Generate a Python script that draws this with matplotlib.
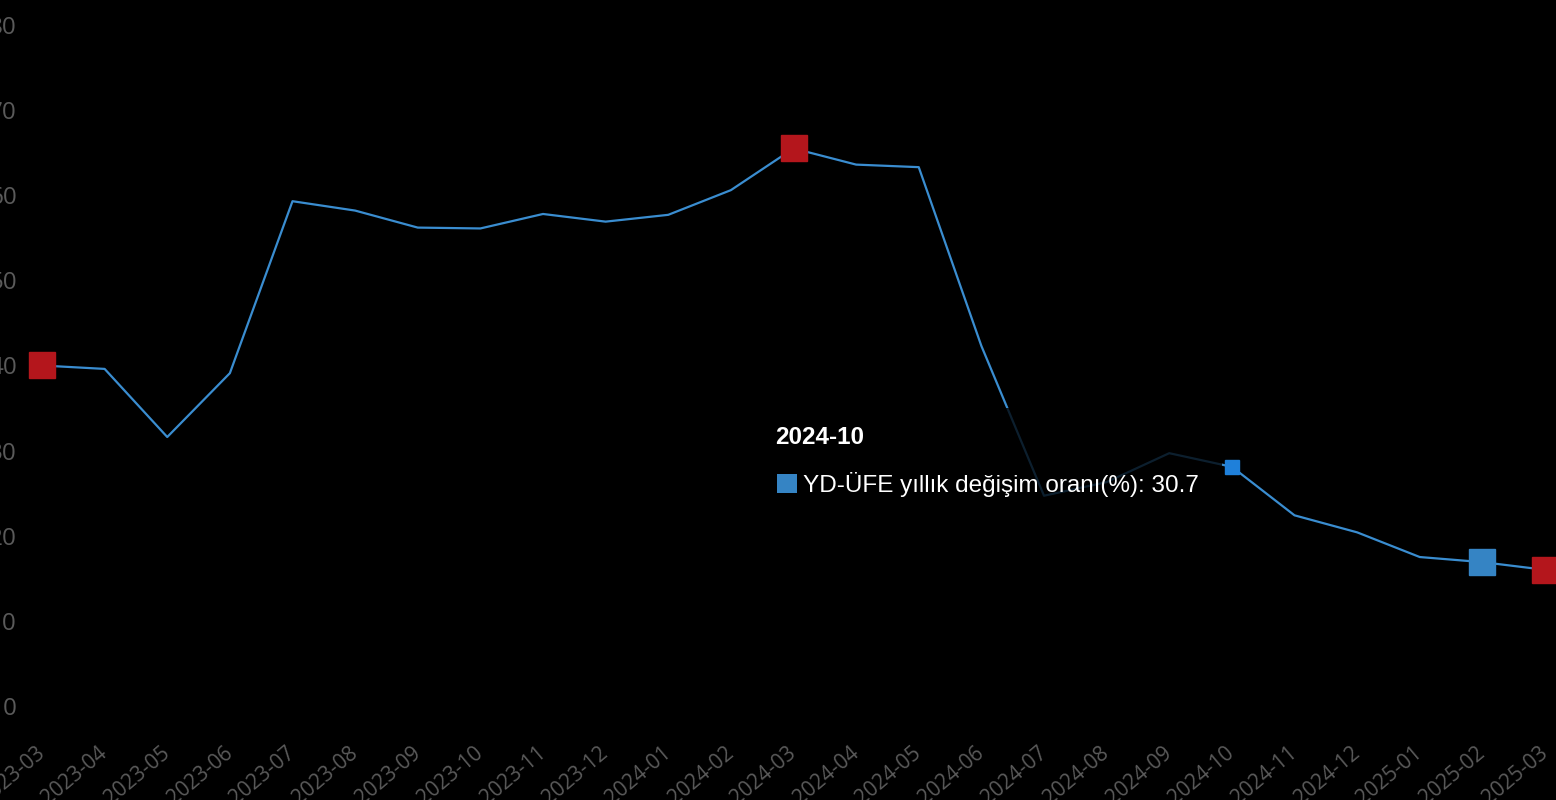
#!/usr/bin/env python3
"""YD-ÜFE annual change line chart, dark theme with hover tooltip."""

import matplotlib

matplotlib.use("Agg")
import matplotlib.pyplot as plt
from matplotlib.patches import Rectangle

W, H = 1556, 800

months = [
    "2023-03", "2023-04", "2023-05", "2023-06", "2023-07", "2023-08",
    "2023-09", "2023-10", "2023-11", "2023-12", "2024-01", "2024-02",
    "2024-03", "2024-04", "2024-05", "2024-06", "2024-07", "2024-08",
    "2024-09", "2024-10", "2024-11", "2024-12", "2025-01", "2025-02",
    "2025-03",
]
rates = [
    40.0, 39.6, 31.6, 39.1, 59.3, 58.2,
    56.2, 56.1, 57.8, 56.9, 57.7, 60.6,
    65.5, 63.6, 63.3, 42.3, 24.7, 26.3,
    29.7, 28.1, 22.4, 20.4, 17.5, 16.9,
    16.0,
]
y_ticks = [0, 10, 20, 30, 40, 50, 60, 70, 80]
red_idx = [0, 12, 24]        # first, peak, last
emph_idx = 23                # 2025-02 big blue square
hover_idx = 19               # 2024-10 hovered point
series_name = "YD-ÜFE yıllık değişim oranı(%)"
hover_label = "30.7"

LINE = "#3a8dd0"
RED = "#b4161c"
BLUE_BIG = "#3584c4"
BLUE_HOVER = "#1f80da"
GRAY = "#5a5a5a"


def px(x, y):
    """pixel (from top-left) -> figure fraction"""
    return x / W, 1 - y / H


fig = plt.figure(figsize=(W / 100, H / 100), dpi=100, facecolor="black")
ax = fig.add_axes([42 / W, 94 / H, (1545 - 42) / W, (706 - 25) / H])
ax.set_facecolor("black")

xs = list(range(len(months)))
ax.plot(xs, rates, color=LINE, lw=1.6, zorder=2, solid_joinstyle="round")

ax.plot([xs[i] for i in red_idx], [rates[i] for i in red_idx], "s",
        color=RED, ms=18.5, zorder=5, clip_on=False)
ax.plot(xs[emph_idx], rates[emph_idx], "s", color=BLUE_BIG, ms=19,
        zorder=5, clip_on=False)
ax.plot(xs[hover_idx], rates[hover_idx], "s", color=BLUE_HOVER, ms=9.5,
        zorder=5, clip_on=False)

ax.set_xlim(0, len(months) - 1)
ax.set_ylim(0, 80)
ax.set_yticks(y_ticks)
ax.set_yticklabels([str(v) for v in y_ticks])
ax.set_xticks(xs)
ax.set_xticklabels(months)
for s in ax.spines.values():
    s.set_visible(False)

ax.tick_params(axis="y", length=0, pad=18, labelsize=17.5, labelcolor=GRAY)
ax.tick_params(axis="x", length=0, pad=32, labelsize=15, labelcolor=GRAY)
for lab in ax.get_yticklabels():
    lab.set_fontfamily("Open Sans")
for lab in ax.get_xticklabels():
    lab.set_fontfamily("Open Sans")
    lab.set_rotation(40)
    lab.set_rotation_mode("anchor")
    lab.set_ha("right")
    lab.set_va("center")

# tooltip: translucent dark box dims the line underneath
x0, y0 = px(758, 515)
x1, y1 = px(1222, 408)
ax.add_patch(Rectangle((x0, y0), x1 - x0, y1 - y0, transform=fig.transFigure,
                       facecolor="black", alpha=0.78, edgecolor="none",
                       zorder=3, clip_on=False))

tx, ty = px(775, 437)
fig.text(tx, ty, months[hover_idx], color="white", fontsize=17.5,
         fontweight="bold", family="Liberation Sans", va="center", zorder=6)
sx0, sy0 = px(777, 493)
sx1, sy1 = px(797, 474)
fig.patches.append(Rectangle((sx0, sy0), sx1 - sx0, sy1 - sy0,
                             transform=fig.transFigure, facecolor=BLUE_BIG,
                             edgecolor="none", zorder=6))
lx, ly = px(803, 485)
fig.text(lx, ly, f"{series_name}: {hover_label}", color="white", fontsize=17.5,
         family="Liberation Sans", va="center", zorder=6)

fig.savefig("out.png", dpi=100, facecolor="black")
